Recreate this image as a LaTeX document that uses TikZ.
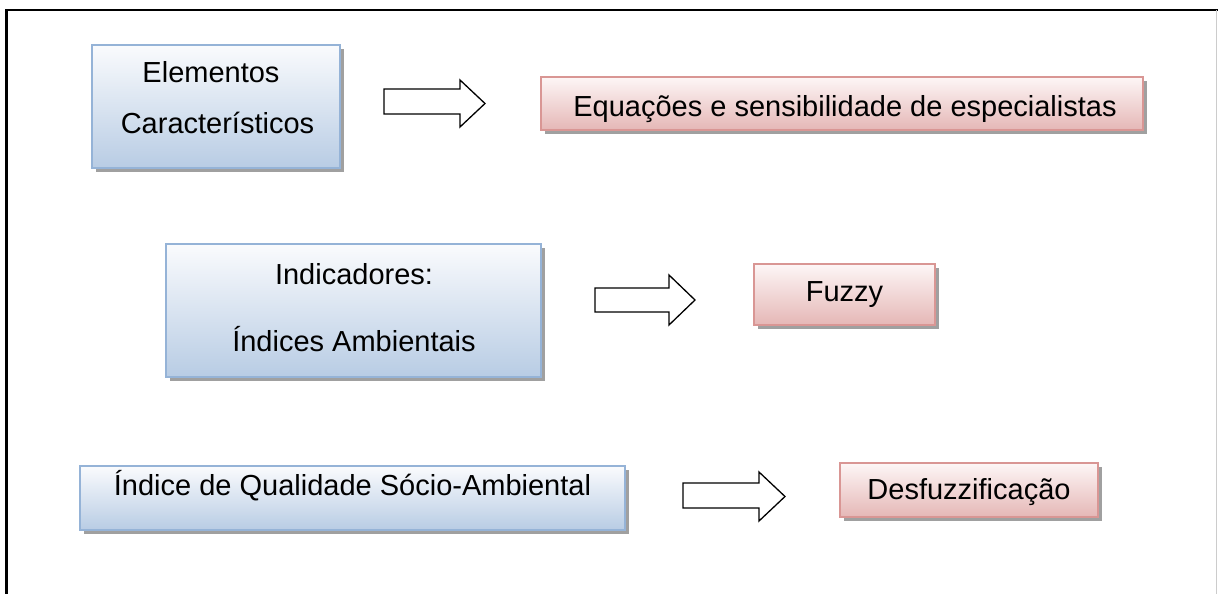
\documentclass[tikz,border=0pt]{standalone}
\usepackage{fontspec}
\setmainfont{Liberation Sans}
\usetikzlibrary{shadows}
\definecolor{bluetop}{HTML}{FAFBFD}
\definecolor{bluebot}{HTML}{B8CCE4}
\definecolor{blueline}{HTML}{95B3D7}
\definecolor{pinktop}{HTML}{FDF6F6}
\definecolor{pinkbot}{HTML}{E5B7B6}
\definecolor{pinkline}{HTML}{D99694}
\definecolor{shadowgray}{HTML}{A0A0A0}
\tikzset{
  txt/.style={font=\fontsize{29}{33}\selectfont, inner sep=0pt, anchor=base},
  boxbase/.style={draw, line width=1.6pt, inner sep=0pt,
    drop shadow={shadow xshift=4pt, shadow yshift=-4pt, fill=shadowgray, opacity=1}},
  bluebox/.style={boxbase, draw=blueline, top color=bluetop, bottom color=bluebot},
  pinkbox/.style={boxbase, draw=pinkline, top color=pinktop, bottom color=pinkbot},
  blockarrow/.style={draw=black, line width=1.3pt, fill=white, line join=miter},
}
\begin{document}
\begin{tikzpicture}[x=1pt,y=-1pt]
\useasboundingbox (0,0) rectangle (1218,594);
% outer frame
\draw[line width=2.4pt] (6.5,594) -- (6.5,10) -- (1218,10);
\draw[line width=1pt, black!20] (1216.5,10) -- (1216.5,594);

% boxes
\node[bluebox, minimum width=248pt, minimum height=123pt] (b1) at (216,106.5) {};
\node[txt] (b1a) at (211,82) {Elementos};
\node[txt] (b1b) at (217.5,133) {Característicos};

\node[pinkbox, minimum width=602pt, minimum height=53pt] (p1) at (842,103.5) {};
\node[txt] (p1t) at (845,116) {Equações e sensibilidade de especialistas};

\node[bluebox, minimum width=375pt, minimum height=133pt] (b2) at (353.5,310.5) {};
\node[txt] (b2a) at (354,284) {Indicadores:};
\node[txt] (b2b) at (354,351) {Índices Ambientais};

\node[pinkbox, minimum width=181pt, minimum height=61pt] (p2) at (844.5,294.5) {};
\node[txt] (p2t) at (844.5,301) {Fuzzy};

\node[bluebox, minimum width=545pt, minimum height=64pt] (b3) at (352.5,498) {};
\node[txt] (b3t) at (352.5,495) {Índice de Qualidade Sócio-Ambiental};

\node[pinkbox, minimum width=258pt, minimum height=54pt] (p3) at (969,490) {};
\node[txt] (p3t) at (969,499) {Desfuzzificação};

% block arrows
\draw[blockarrow] (384,89) -- (460,89) -- (460,80) -- (485,103.5) -- (460,127) -- (460,114) -- (384,114) -- cycle;
\draw[blockarrow] (595,288) -- (669,288) -- (669,275) -- (695,300) -- (669,325) -- (669,312) -- (595,312) -- cycle;
\draw[blockarrow] (683,483) -- (759,483) -- (759,472) -- (785,496.5) -- (759,521) -- (759,508) -- (683,508) -- cycle;
\end{tikzpicture}
\end{document}
